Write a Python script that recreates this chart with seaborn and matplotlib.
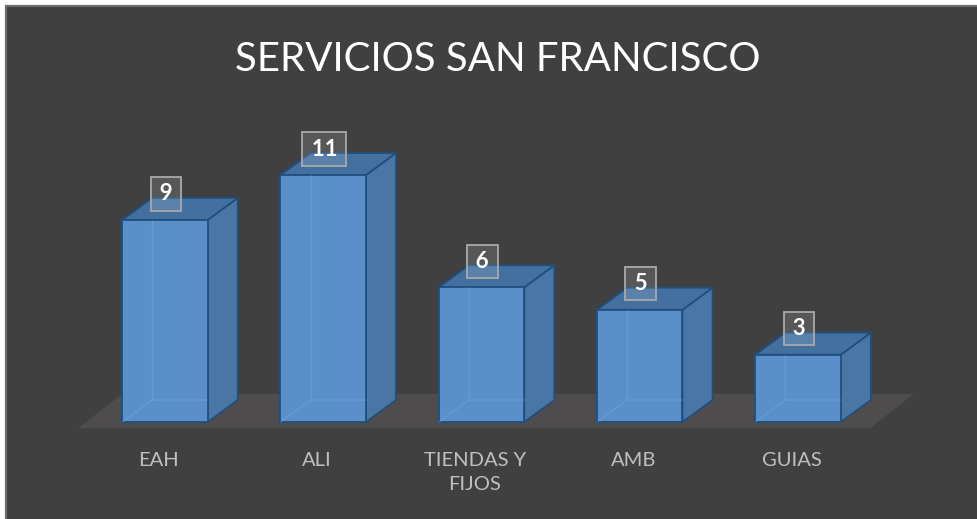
import matplotlib
matplotlib.use("Agg")
import matplotlib.pyplot as plt
from matplotlib.patches import Polygon, Rectangle
from matplotlib.transforms import ScaledTranslation
import seaborn as sns
import pandas as pd

# Data
categorias = ["EAH", "ALI", "TIENDAS Y\nFIJOS", "AMB", "GUIAS"]
valores = [9, 11, 6, 5, 3]
titulo = "SERVICIOS SAN FRANCISCO"

# Colours
fondo = "#404040"
suelo = "#4e4c4c"
frente = "#5a8fca"
lateral = "#4a76a6"
techo = "#44709f"
borde = "#1f4f7f"

sns.set_theme(style="white")
plt.rcParams["font.family"] = ["Lato", "DejaVu Sans"]

W, H = 978, 519
fig = plt.figure(figsize=(W / 100, H / 100), dpi=100, facecolor="white")

# Chart area frame
fig.patches.append(Rectangle((6 / W, -0.02), 1.0, (H - 6) / H + 0.02,
                             transform=fig.transFigure, facecolor=fondo,
                             edgecolor="#6e6e6e", lw=1.6, zorder=-1))

ax = fig.add_axes([70 / W, (H - 440) / H, 860 / W, 340 / H])
ax.set_facecolor("none")

df = pd.DataFrame({"categoria": categorias, "valor": valores})
sns.barplot(data=df, x="categoria", y="valor", ax=ax, width=0.54,
            color=frente, saturation=1, edgecolor=borde, linewidth=1.3,
            zorder=3)

ax.set_xlim(-0.6, 4.834)
ax.set_ylim(-0.8, 14.34)

# depth of the 3-D extrusion in data units
dx, dy = 0.19, 0.98

# floor plane
x0f, x1f = ax.get_xlim()
ax.add_patch(Polygon([(x0f + 0.05, -0.27), (x1f - 0.38, -0.27),
                      (x1f - 0.10, 1.25), (x0f + 0.33, 1.25)],
                     closed=True, facecolor=suelo, edgecolor="none",
                     zorder=1))

for p, v in zip(list(ax.patches)[:len(valores)], valores):
    x0 = p.get_x()
    w = p.get_width()
    h = p.get_height()
    ax.add_patch(Polygon([(x0 + w, 0), (x0 + w + dx, dy),
                          (x0 + w + dx, h + dy), (x0 + w, h)],
                         closed=True, facecolor=lateral, edgecolor=borde,
                         lw=1.3, zorder=2))
    ax.add_patch(Polygon([(x0, h), (x0 + dx, h + dy),
                          (x0 + w + dx, h + dy), (x0 + w, h)],
                         closed=True, facecolor=techo, edgecolor=borde,
                         lw=1.3, zorder=2))
    # faint hidden edges seen through the translucent front face
    ax.plot([x0 + dx, x0 + dx], [dy, h], color="#7aaee6", lw=1,
            alpha=0.35, zorder=4)
    ax.plot([x0, x0 + dx, x0 + w], [0, dy, dy], color="#7aaee6", lw=1,
            alpha=0.35, zorder=4)
    ax.annotate(f"\u2009{v}\u2009", xy=(x0 + w / 2, h), xytext=(1, 26),
                textcoords="offset pixels", ha="center", va="center",
                color="white", fontsize=16, fontweight="bold", zorder=6,
                bbox=dict(boxstyle="square,pad=0.28",
                          facecolor=(1, 1, 1, 0.12), edgecolor="#a9a9a9",
                          lw=1.3))

ax.set_xlabel("")
ax.set_ylabel("")
ax.set_yticks([])
for s in ax.spines.values():
    s.set_visible(False)
ax.tick_params(axis="x", length=0, pad=9, labelsize=14.5, labelcolor="#bfbfbf")
shift = ScaledTranslation(-6.5 / 100, 0, fig.dpi_scale_trans)
for t in ax.get_xticklabels():
    t.set_linespacing(1.45)
    t.set_transform(t.get_transform() + shift)

fig.text(498 / W, 1 - 71 / H, titulo, ha="center", va="baseline",
         color="white", fontsize=29)

fig.savefig("out.png", dpi=100, facecolor=fig.get_facecolor())
